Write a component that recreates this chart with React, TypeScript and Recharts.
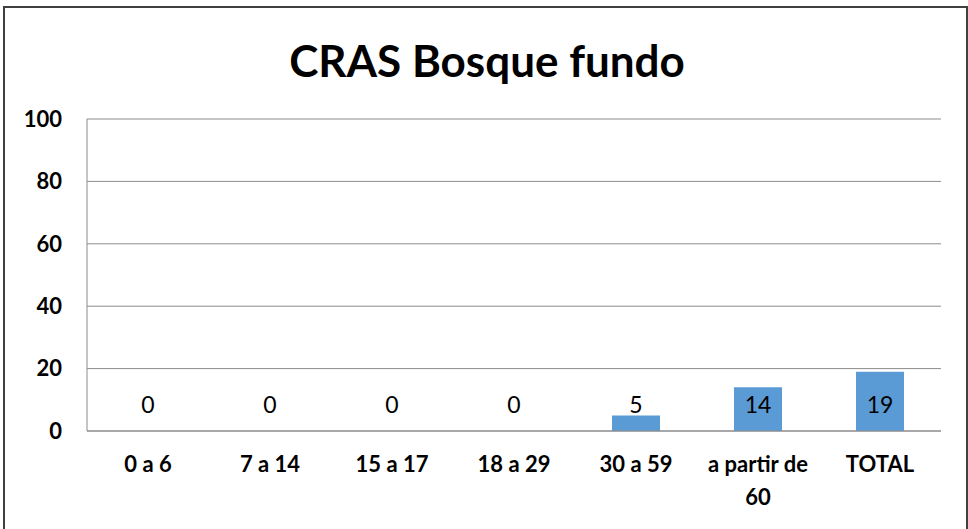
import React from "react";
import { BarChart, Bar, XAxis, YAxis, CartesianGrid, LabelList } from "recharts";

const categories = ["0 a 6", "7 a 14", "15 a 17", "18 a 29", "30 a 59", "a partir de 60", "TOTAL"];
const values = [0, 0, 0, 0, 5, 14, 19];
const yTicks = [0, 20, 40, 60, 80, 100];

const data = categories.map((name, i) => ({ name, value: values[i] }));

const FONT = "Lato, 'Open Sans', sans-serif";

// break long category names into lines of at most 12 chars
const wrap = (s: string, max = 12) => {
	const lines: string[] = [];
	let cur = "";
	for (const w of s.split(" ")) {
		const next = cur ? cur + " " + w : w;
		if (next.length > max && cur) {
			lines.push(cur);
			cur = w;
		} else {
			cur = next;
		}
	}
	if (cur) lines.push(cur);
	return lines;
};

const XTick = (props: any) => {
	const { x, y, payload } = props;
	const lines = wrap(String(payload.value));
	return (
		<text
			x={x}
			y={y}
			textAnchor="middle"
			fontFamily={FONT}
			fontWeight={700}
			fontSize={22}
			fill="#000"
		>
			{lines.map((l, i) => (
				<tspan key={i} x={x} dy={i === 0 ? 18 : 33}>
					{l}
				</tspan>
			))}
		</text>
	);
};

const ValueLabel = (props: any) => {
	const { x, y, width, height, value } = props;
	const base = y + height;
	return (
		<text
			x={x + width / 2}
			y={base - 27}
			textAnchor="middle"
			dominantBaseline="central"
			fontFamily={FONT}
			fontSize={23}
			fill="#000"
		>
			{value}
		</text>
	);
};

export default function App() {
	return (
		<div style={{ position: "fixed", left: 0, top: 0, width: 968, height: 529, background: "#fff", overflow: "hidden" }}>
			<div
				style={{
					position: "absolute",
					left: 3,
					top: 6,
					width: 961,
					height: 600,
					border: "2px solid #404040",
				}}
			/>
			<div
				style={{
					position: "absolute",
					left: 0,
					top: 34,
					width: 974,
					textAlign: "center",
					fontFamily: FONT,
					fontWeight: 700,
					fontSize: 44,
					lineHeight: "52px",
					color: "#000",
				}}
			>
				CRAS Bosque fundo
			</div>
			<div style={{ position: "absolute", left: 0, top: 0 }}>
				<BarChart width={968} height={529} data={data} margin={{ top: 119, right: 27, left: 0, bottom: 0 }}>
					<CartesianGrid vertical={false} stroke="#8c8c8c" strokeWidth={1} />
					<XAxis
						dataKey="name"
						height={98}
						axisLine={{ stroke: "#8c8c8c" }}
						tickLine={false}
						tickSize={0}
						tickMargin={23}
						interval={0}
						tick={<XTick />}
					/>
					<YAxis
						width={87}
						domain={[0, 100]}
						ticks={yTicks}
						axisLine={{ stroke: "#8c8c8c" }}
						tickLine={false}
						tickSize={0}
						tickMargin={25}
						tick={{ fontFamily: FONT, fontWeight: 700, fontSize: 22, fill: "#000" }}
					/>
					<Bar dataKey="value" fill="#5b9bd5" barSize={48} minPointSize={0.01} isAnimationActive={false}>
						<LabelList dataKey="value" content={<ValueLabel />} />
					</Bar>
				</BarChart>
			</div>
		</div>
	);
}
